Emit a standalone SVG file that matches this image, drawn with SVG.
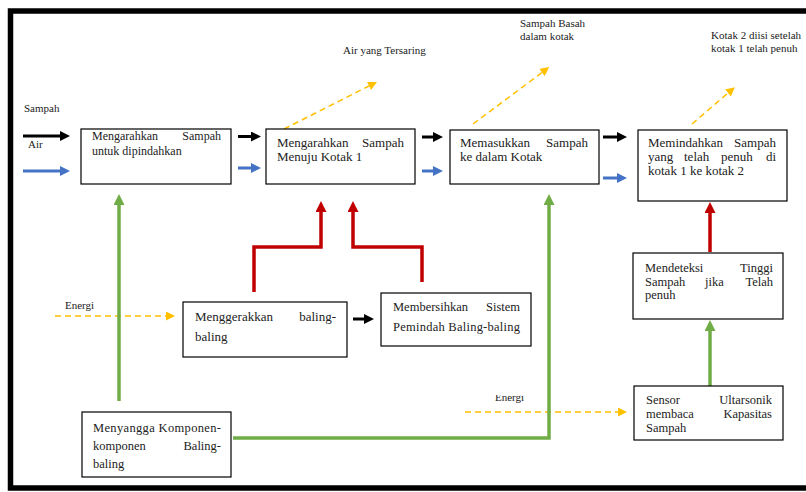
<svg xmlns="http://www.w3.org/2000/svg" width="806" height="492" viewBox="0 0 806 492">
<style>
.box{fill:#fff;stroke:#000;stroke-width:1.2}
.t{font-family:"Liberation Serif","Times New Roman","DejaVu Serif",serif;fill:#222}
.t13{font-size:13px}
.t12{font-size:12px}
.t125{font-size:12.5px}
.lbl{font-family:"Liberation Serif","Times New Roman","DejaVu Serif",serif;font-size:11px;fill:#222}
.k{stroke:#000;stroke-width:3;fill:none}
.b{stroke:#4472C4;stroke-width:3;fill:none}
.g{stroke:#70AD47;stroke-width:3.5;fill:none}
.r{stroke:#C00000;stroke-width:3.5;fill:none}
.y{stroke:#FFC000;stroke-width:1.5;stroke-dasharray:6 4;fill:none}
</style>
<defs>
<marker id="hk" markerUnits="userSpaceOnUse" markerWidth="10" markerHeight="10" refX="0" refY="5" orient="auto"><path d="M0,0 L10,5 L0,10 z" fill="#000"/></marker>
<marker id="hb" markerUnits="userSpaceOnUse" markerWidth="10" markerHeight="10" refX="0" refY="5" orient="auto"><path d="M0,0 L10,5 L0,10 z" fill="#4472C4"/></marker>
<marker id="hg" markerUnits="userSpaceOnUse" markerWidth="11" markerHeight="11" refX="0" refY="5.5" orient="auto"><path d="M0,0 L11,5.5 L0,11 z" fill="#70AD47"/></marker>
<marker id="hr" markerUnits="userSpaceOnUse" markerWidth="11" markerHeight="11" refX="0" refY="5.5" orient="auto"><path d="M0,0 L11,5.5 L0,11 z" fill="#C00000"/></marker>
<marker id="hy" markerUnits="userSpaceOnUse" markerWidth="9" markerHeight="9" refX="0" refY="4.5" orient="auto"><path d="M0,0 L9,4.5 L0,9 z" fill="#FFC000"/></marker>
<clipPath id="clipE"><rect x="480" y="395" width="60" height="10"/></clipPath>
</defs>
<rect x="0" y="0" width="806" height="492" fill="#fff"/>
<rect x="10.5" y="11" width="820" height="477" fill="none" stroke="#000" stroke-width="5.5"/>

<g id="labels">
<text class="lbl" x="24" y="112">Sampah</text>
<text class="lbl" x="28" y="148">Air</text>
<text class="lbl" x="343" y="54">Air yang Tersaring</text>
<text class="lbl" x="520" y="27">Sampah Basah</text>
<text class="lbl" x="520" y="40">dalam kotak</text>
<text class="lbl" x="711" y="39">Kotak 2 diisi setelah</text>
<text class="lbl" x="711" y="52">kotak 1 telah penuh</text>
<text class="lbl" x="65" y="309">Energi</text>
<text class="lbl" x="495" y="401" clip-path="url(#clipE)">Energi</text>
</g>

<g id="connectors">
<line class="k" x1="23" y1="136" x2="60" y2="136" marker-end="url(#hk)"/>
<line class="b" x1="23" y1="171" x2="60" y2="171" marker-end="url(#hb)"/>
<line class="k" x1="238" y1="136.5" x2="251" y2="136.5" marker-end="url(#hk)"/>
<line class="b" x1="238" y1="168" x2="251" y2="168" marker-end="url(#hb)"/>
<line class="k" x1="422" y1="137" x2="433" y2="137" marker-end="url(#hk)"/>
<line class="b" x1="422" y1="171" x2="433" y2="171" marker-end="url(#hb)"/>
<line class="k" x1="603" y1="137" x2="617" y2="137" marker-end="url(#hk)"/>
<line class="b" x1="603" y1="178" x2="617" y2="178" marker-end="url(#hb)"/>
<line class="y" x1="284" y1="129" x2="369" y2="86" marker-end="url(#hy)"/>
<line class="y" x1="473" y1="124" x2="542" y2="72.5" marker-end="url(#hy)"/>
<line class="y" x1="692" y1="124" x2="728" y2="93" marker-end="url(#hy)"/>
<line class="y" x1="55" y1="316" x2="166" y2="316" marker-end="url(#hy)"/>
<line class="y" x1="465" y1="412" x2="618" y2="412" marker-end="url(#hy)"/>
<line class="g" x1="119" y1="401" x2="119" y2="205" marker-end="url(#hg)"/>
<polyline class="g" points="233,438 549,438 549,205" marker-end="url(#hg)"/>
<line class="g" x1="710" y1="386" x2="710" y2="331" marker-end="url(#hg)"/>
<line class="r" x1="710" y1="252" x2="710" y2="213" marker-end="url(#hr)"/>
<polyline class="r" points="254,292 254,247 321,247 321,212" marker-end="url(#hr)"/>
<polyline class="r" points="422,282 422,247 353,247 353,212" marker-end="url(#hr)"/>
<line class="k" x1="353" y1="319" x2="364" y2="319" marker-end="url(#hk)"/>
</g>

<g id="n1">
<rect class="box" x="81" y="129" width="150" height="55"/>
<text class="t t12" x="92" y="140">Mengarahkan</text>
<text class="t t12" x="221" y="140" text-anchor="end">Sampah</text>
<text class="t t12" x="92" y="155">untuk dipindahkan</text>
</g>
<g id="n2">
<rect class="box" x="266" y="129" width="149" height="55"/>
<text class="t t13" x="277" y="147">Mengarahkan</text>
<text class="t t13" x="404" y="147" text-anchor="end">Sampah</text>
<text class="t t13" x="277" y="161">Menuju Kotak 1</text>
</g>
<g id="n3">
<rect class="box" x="450" y="130" width="149" height="54"/>
<text class="t t13" x="460" y="147">Memasukkan</text>
<text class="t t13" x="588" y="147" text-anchor="end">Sampah</text>
<text class="t t13" x="460" y="161">ke dalam Kotak</text>
</g>
<g id="n4">
<rect class="box" x="638" y="130" width="149" height="71"/>
<text class="t t13" x="648" y="147">Memindahkan</text>
<text class="t t13" x="776" y="147" text-anchor="end">Sampah</text>
<text class="t t13" x="648" y="161">yang</text>
<text class="t t13" x="684" y="161">telah</text>
<text class="t t13" x="721" y="161">penuh</text>
<text class="t t13" x="776" y="161" text-anchor="end">di</text>
<text class="t t13" x="648" y="175">kotak 1 ke kotak 2</text>
</g>
<g id="n5">
<rect class="box" x="633" y="253" width="150" height="66"/>
<text class="t t125" x="645" y="272">Mendeteksi</text>
<text class="t t125" x="773" y="272" text-anchor="end">Tinggi</text>
<text class="t t125" x="645" y="286">Sampah</text>
<text class="t t125" x="705" y="286">jika</text>
<text class="t t125" x="773" y="286" text-anchor="end">Telah</text>
<text class="t t125" x="645" y="299">penuh</text>
</g>
<g id="n6">
<rect class="box" x="634" y="386" width="149" height="54"/>
<text class="t t125" x="646" y="404">Sensor</text>
<text class="t t125" x="772" y="404" text-anchor="end">Ultarsonik</text>
<text class="t t125" x="646" y="418">membaca</text>
<text class="t t125" x="772" y="418" text-anchor="end">Kapasitas</text>
<text class="t t125" x="646" y="432">Sampah</text>
</g>
<g id="n7">
<rect class="box" x="183" y="302" width="164" height="55"/>
<text class="t t13" x="195" y="321">Menggerakkan</text>
<text class="t t13" x="336" y="321" text-anchor="end">baling-</text>
<text class="t t13" x="195" y="341">baling</text>
</g>
<g id="n8">
<rect class="box" x="381" y="293" width="150" height="53"/>
<text class="t t125" x="393" y="311">Membersihkan</text>
<text class="t t125" x="520" y="311" text-anchor="end">Sistem</text>
<text class="t t125" x="393" y="331" textLength="127" lengthAdjust="spacing">Pemindah Baling-baling</text>
</g>
<g id="n9">
<rect class="box" x="82" y="412" width="149" height="65"/>
<text class="t t125" x="93" y="432" textLength="128" lengthAdjust="spacing">Menyangga Komponen-</text>
<text class="t t125" x="93" y="450">komponen</text>
<text class="t t125" x="221" y="450" text-anchor="end">Baling-</text>
<text class="t t125" x="93" y="468">baling</text>
</g>
</svg>
